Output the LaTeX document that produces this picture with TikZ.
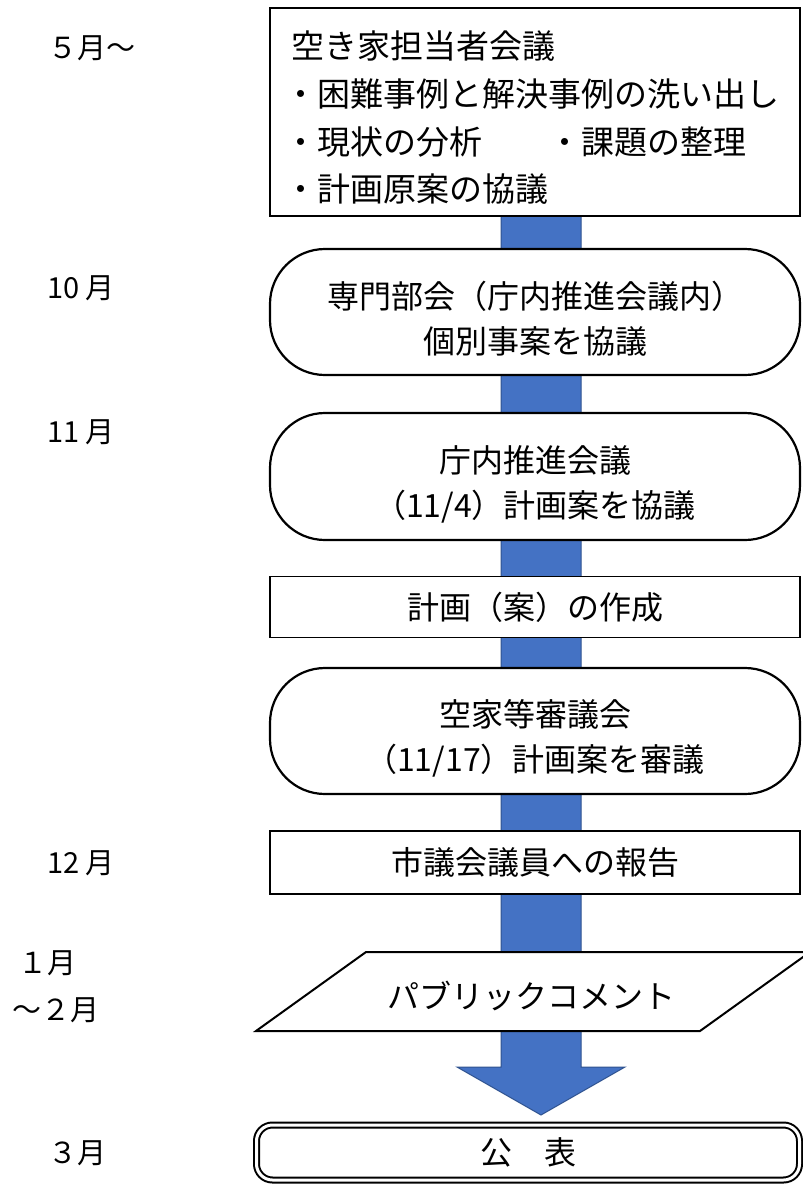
\documentclass[tikz,border=0pt]{standalone}
\usepackage{fontspec}
\setmainfont{Noto Sans CJK JP}
\usetikzlibrary{calc}
\definecolor{arrowblue}{HTML}{4472C4}
\definecolor{arrowedge}{HTML}{2F528F}
\pgfdeclarelayer{bg}
\pgfsetlayers{bg,main}
\begin{document}
\begin{tikzpicture}[x=1pt,y=-1pt,
  sq/.style={draw=black, line width=1.8pt, fill=white, minimum width=530pt, outer sep=0pt, inner sep=0pt},
  rb/.style={sq, rounded corners=55pt, line width=2.2pt},
  bt/.style={font=\fontsize{32}{45}\selectfont, align=center, inner sep=0pt},
  toptxt/.style={font=\fontsize{33}{47.7}\selectfont, align=left, inner sep=0pt},
  month/.style={anchor=west, inner sep=0pt, font=\fontsize{29}{32}\selectfont},
  arrowst/.style={fill=arrowblue, draw=arrowedge, line width=1pt, line join=miter}]
\useasboundingbox (0,0) rectangle (803,1184);

% boxes
\node[sq, anchor=north west, minimum height=208pt,
  label={[toptxt, anchor=west, xshift=14pt, yshift=-6pt]west:{\hspace*{7pt}空き家担当者会議\\・困難事例と解決事例の洗い出し\\・現状の分析　　・課題の整理\\・計画原案の協議}}] (t) at (270,8) {};

\node[rb, minimum height=126pt,
  label={[bt, yshift=-7pt]center:{専門部会（庁内推進会議内）\\個別事案を協議}}] (b1) at (535,312) {};

\node[rb, minimum height=127pt,
  label={[bt, yshift=-8pt]center:{庁内推進会議\\（11/4）計画案を協議}}] (b2) at (535,476.5) {};

\node[sq, minimum height=61pt, font=\fontsize{32}{45}\selectfont] (r1) at (535,607) {計画（案）の作成};

\node[rb, minimum height=126pt,
  label={[bt, yshift=-7pt]center:{空家等審議会\\（11/17）計画案を審議}}] (b3) at (535,731) {};

\node[sq, minimum height=63pt, font=\fontsize{32}{45}\selectfont] (r2) at (535,862.5) {市議会議員への報告};

% parallelogram
\coordinate (pcc) at (533,991.5);
\draw[line width=2pt, fill=white] ($(pcc)+(-277,39.5)$) -- ($(pcc)+(-167,-39.5)$) -- ($(pcc)+(277,-39.5)$) -- ($(pcc)+(167,39.5)$) -- cycle;
\node[bt] (pc) at ($(pcc)+(-2,4)$) {パブリックコメント};

% final box
\node[draw=black, line width=2pt, double=white, double distance=3pt, rounded corners=16pt,
  minimum width=543pt, minimum height=55pt, fill=white, outer sep=0pt, inner sep=0pt,
  font=\fontsize{32}{45}\selectfont] (f) at (528,1152.5) {公　表};

% big blue arrow behind
\begin{pgfonlayer}{bg}
\coordinate (as) at ($(t.south)+(6,0)$);
\coordinate (ae) at ($(as |- f.north)+(0,-10)$);
\draw[arrowst] ($(as)+(-40,0)$) -- ($(as)+(40,0)$) -- ($(ae)+(40,-48)$) -- ($(ae)+(84,-48)$) -- (ae) -- ($(ae)+(-84,-48)$) -- ($(ae)+(-40,-48)$) -- cycle;
\end{pgfonlayer}

% months
\node[month] (m5) at (48,48) {５月〜};
\node[month] (m10) at (47,288) {10 月};
\node[month] (m11) at (47,432) {11 月};
\node[month] (m12) at (47,863) {12 月};
\node[month] (m1) at (18,963) {１月};
\node[month] (m2) at (12,1010) {〜２月};
\node[month] (m3) at (48,1153) {３月};
\end{tikzpicture}
\end{document}
